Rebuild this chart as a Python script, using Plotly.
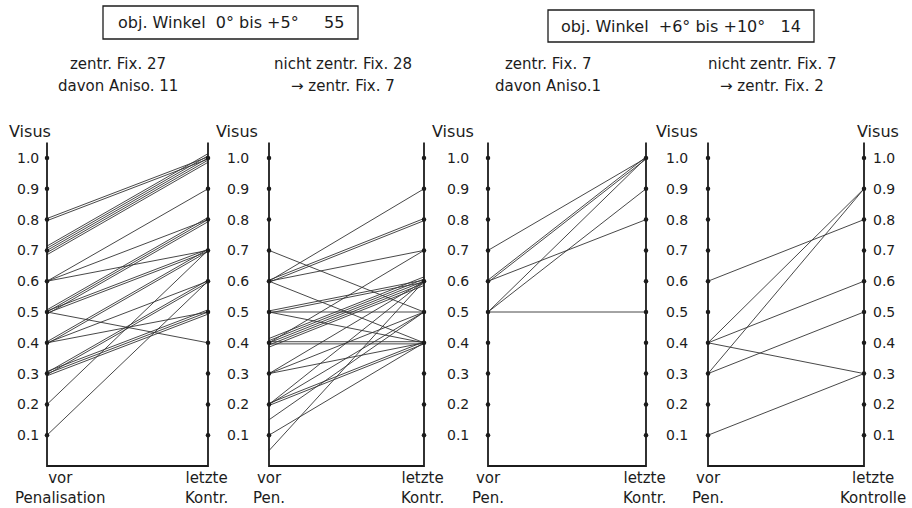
import plotly.graph_objects as go

W, H = 912, 508

# ---------------- data ----------------
tick_values = [1.0, 0.9, 0.8, 0.7, 0.6, 0.5, 0.4, 0.3, 0.2, 0.1]
tick_labels = ["1.0", "0.9", "0.8", "0.7", "0.6", "0.5", "0.4", "0.3", "0.2", "0.1"]

header_texts = ["obj. Winkel  0° bis +5°     55", "obj. Winkel  +6° bis +10°   14"]
panel_titles = [
    ["zentr. Fix. 27", "davon Aniso. 11"],
    ["nicht zentr. Fix. 28", "→ zentr. Fix. 7"],
    ["zentr. Fix. 7", "davon Aniso.1"],
    ["nicht zentr. Fix. 7", "→ zentr. Fix. 2"],
]
left_labels = ["vor<br>Penalisation", "vor<br>Pen.", "vor<br>Pen.", "vor<br>Pen."]
right_labels = ["letzte<br>Kontr.", "letzte<br>Kontr.", "letzte<br>Kontr.", "letzte<br>Kontrolle"]

# Visus before penalisation (vor) and at last control (letzte Kontrolle)
p1_vor =    [0.8, 0.8, 0.7, 0.7, 0.7, 0.7, 0.7, 0.6, 0.6, 0.6, 0.5, 0.5, 0.5, 0.5,
             0.5, 0.5, 0.4, 0.4, 0.4, 0.4, 0.3, 0.3, 0.3, 0.3, 0.3, 0.2, 0.1]
p1_letzte = [1.0, 1.0, 1.0, 1.0, 1.0, 1.0, 1.0, 0.9, 0.8, 0.7, 0.8, 0.8, 0.8, 0.7,
             0.7, 0.4, 0.7, 0.7, 0.6, 0.5, 0.6, 0.6, 0.5, 0.5, 0.5, 0.7, 0.6]

p2_vor =    [0.7, 0.6, 0.6, 0.6, 0.6, 0.6, 0.5, 0.5, 0.5, 0.5, 0.4, 0.4, 0.4, 0.4,
             0.4, 0.4, 0.4, 0.4, 0.3, 0.3, 0.3, 0.2, 0.2, 0.2, 0.2, 0.15, 0.1, 0.05]
p2_letzte = [0.5, 0.9, 0.8, 0.8, 0.7, 0.4, 0.5, 0.6, 0.6, 0.4, 0.6, 0.6, 0.6, 0.6,
             0.6, 0.4, 0.4, 0.7, 0.6, 0.5, 0.4, 0.6, 0.5, 0.4, 0.4, 0.5, 0.4, 0.6]

p3_vor =    [0.7, 0.6, 0.6, 0.6, 0.5, 0.5, 0.5]
p3_letzte = [1.0, 1.0, 1.0, 0.8, 1.0, 0.9, 0.5]

p4_vor =    [0.6, 0.4, 0.4, 0.4, 0.3, 0.3, 0.1]
p4_letzte = [0.8, 0.9, 0.6, 0.3, 0.9, 0.5, 0.3]

panels = [(p1_vor, p1_letzte), (p2_vor, p2_letzte), (p3_vor, p3_letzte), (p4_vor, p4_letzte)]

# ---------------- layout constants (pixels) ----------------
panel_x = [(47, 208), (269, 424), (488, 646), (708, 864)]
Y0_PX, Y1_PX = 466, 158          # pixel rows of Visus 0 and 1.0
UNIT = Y0_PX - Y1_PX
y_lo = -(H - Y0_PX) / UNIT
y_hi = Y0_PX / UNIT
AXIS_TOP = 1.05
FONT = "DejaVu Sans"
INK = "#1c1c1c"
DUP_STEP = 0.007


def pv(py):
    """pixel row -> data value"""
    return (Y0_PX - py) / UNIT


fig = go.Figure()

# data lines (identical pairs drawn side by side, as in the original)
for (vor, letzte), (xl, xr) in zip(panels, panel_x):
    xs, ys = [], []
    seen = {}
    counts = {}
    for a, b in zip(vor, letzte):
        counts[(a, b)] = counts.get((a, b), 0) + 1
    for a, b in zip(vor, letzte):
        k = seen.get((a, b), 0)
        seen[(a, b)] = k + 1
        off = (k - (counts[(a, b)] - 1) / 2) * DUP_STEP
        xs += [xl, xr, None]
        ys += [a + off, b + off, None]
    fig.add_trace(go.Scatter(x=xs, y=ys, mode="lines",
                             line=dict(color="#333333", width=0.9),
                             hoverinfo="skip", showlegend=False))

# axes: vertical lines + bottom line, tick dots
for xl, xr in panel_x:
    fig.add_shape(type="path",
                  path=f"M {xl} {AXIS_TOP} L {xl} 0 L {xr} 0 L {xr} {AXIS_TOP}",
                  xref="x", yref="y", line=dict(color=INK, width=1.8))
    fig.add_trace(go.Scatter(x=[xl] * len(tick_values) + [xr] * len(tick_values),
                             y=tick_values + tick_values, mode="markers",
                             marker=dict(color=INK, size=4.5),
                             hoverinfo="skip", showlegend=False))

annotations = []


def txt(x, y, text, size=14, xanchor="center", align="center", yref="y"):
    annotations.append(dict(x=x, y=y, xref="x", yref=yref, text=text, showarrow=False,
                            xanchor=xanchor, yanchor="middle", align=align,
                            font=dict(family=FONT, size=size, color=INK)))


# tick labels
label_right_edges = [41, 251, 471, 690]
for xe in label_right_edges:
    for v, lab in zip(tick_values, tick_labels):
        txt(xe, v, lab, size=14, xanchor="right")
for v, lab in zip(tick_values, tick_labels):
    txt(871, v, lab, size=14, xanchor="left")

# "Visus" headings
for xc in [30, 237, 453, 677, 878]:
    txt(xc, pv(131), "Visus", size=16)

# bottom labels
for (xl, xr), ll, rl in zip(panel_x, left_labels, right_labels):
    lx = 60 if xl == 47 else xl
    txt(lx, pv(488), ll, size=15)
    txt(xr + (9 if xr == 864 else -2), pv(488), rl, size=15)

# panel titles
title_x = [118, 343, 548, 772]
for xc, (l1, l2) in zip(title_x, panel_titles):
    txt(xc, pv(64), l1, size=15)
    txt(xc, pv(86), l2, size=15)

# header boxes
boxes = [(103, 358, 6, 39), (548, 814, 10, 42)]
for (x0, x1, t, b), ht in zip(boxes, header_texts):
    fig.add_shape(type="rect", x0=x0, x1=x1, y0=pv(b), y1=pv(t), xref="x", yref="y",
                  line=dict(color=INK, width=1.3))
    txt((x0 + x1) / 2, pv((t + b) / 2), ht, size=16)

fig.update_layout(
    width=W, height=H, margin=dict(l=0, r=0, t=0, b=0),
    paper_bgcolor="white", plot_bgcolor="white",
    xaxis=dict(range=[0, W], visible=False, fixedrange=True),
    yaxis=dict(range=[y_lo, y_hi], visible=False, fixedrange=True),
    annotations=annotations, showlegend=False,
)

fig.write_html("out.html", config={"displayModeBar": False},
               post_script="document.body.style.margin='0';document.body.style.overflow='hidden';")
